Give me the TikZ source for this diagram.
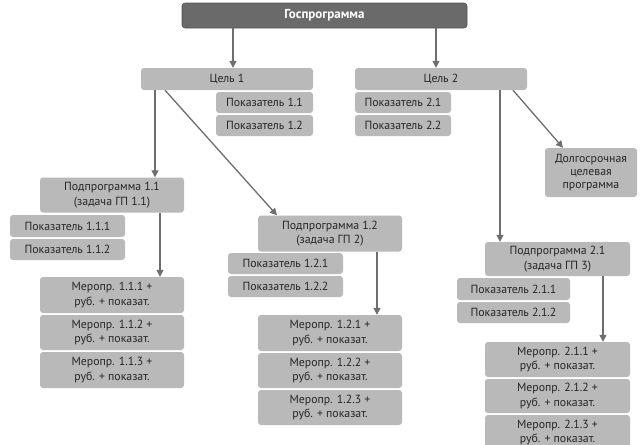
\documentclass[tikz,border=0pt]{standalone}
\usepackage{fontspec}
\setmainfont{PT Sans}
\usetikzlibrary{arrows.meta}
\definecolor{boxgray}{HTML}{B9B9B9}
\definecolor{darkbox}{HTML}{6A6A6A}
\definecolor{arrgray}{HTML}{6E6E6E}
\definecolor{txtgray}{HTML}{262626}
\tikzset{
  box/.style={fill=boxgray, rounded corners=3pt, inner sep=0pt, align=center,
    text=txtgray, font=\fontsize{11.8}{14.5}\selectfont},
  topbox/.style={box, fill=darkbox, draw=darkbox!80!black, line width=0.6pt, text=white,
    font=\fontsize{13}{15}\selectfont\bfseries},
  arr/.style={draw=arrgray, line width=1.3pt, -{Triangle[length=7pt,width=7pt]}},
}
\begin{document}
\begin{tikzpicture}[x=1pt,y=-1pt]
\clip (0,0) rectangle (641,445);
\fill[white] (0,0) rectangle (641,445);
% top
\node[topbox, minimum width=285, minimum height=25] (gp) at (324.5,15.5) {Госпрограмма};
% goals
\node[box, minimum width=172, minimum height=22] (c1) at (227,79) {Цель 1};
\node[box, minimum width=97, minimum height=21] (p11) at (264.5,102.5) {Показатель 1.1};
\node[box, minimum width=97, minimum height=21] (p12) at (264.5,125.5) {Показатель 1.2};
\node[box, minimum width=172, minimum height=22] (c2) at (441,79) {Цель 2};
\node[box, minimum width=96, minimum height=21] (p21) at (403,102.5) {Показатель 2.1};
\node[box, minimum width=96, minimum height=21] (p22) at (403,125.5) {Показатель 2.2};
\node[box, minimum width=92, minimum height=49, font=\fontsize{11.8}{12.8}\selectfont] (dlg) at (591,172.5) {Долгосрочная\\целевая\\программа};
% subprogram 1.1
\node[box, minimum width=144, minimum height=35] (sp11) at (112,195) {Подпрограмма 1.1\\(задача ГП 1.1)};
\node[box, minimum width=115, minimum height=22] (p111) at (67.5,226) {Показатель 1.1.1};
\node[box, minimum width=115, minimum height=21] (p112) at (67.5,249.5) {Показатель 1.1.2};
\node[box, minimum width=144, minimum height=36] (m111) at (112,295) {Меропр. 1.1.1 +\\руб. + показат.};
\node[box, minimum width=144, minimum height=35] (m112) at (112,332.5) {Меропр. 1.1.2 +\\руб. + показат.};
\node[box, minimum width=144, minimum height=36] (m113) at (112,370) {Меропр. 1.1.3 +\\руб. + показат.};
% subprogram 1.2
\node[box, minimum width=144, minimum height=36] (sp12) at (330,233.5) {Подпрограмма 1.2\\(задача ГП 2)};
\node[box, minimum width=115, minimum height=21] (p121) at (285.5,263.5) {Показатель 1.2.1};
\node[box, minimum width=115, minimum height=21] (p122) at (285.5,286.5) {Показатель 1.2.2};
\node[box, minimum width=144, minimum height=36] (m121) at (330,333) {Меропр. 1.2.1 +\\руб. + показат.};
\node[box, minimum width=144, minimum height=35] (m122) at (330,370.5) {Меропр. 1.2.2 +\\руб. + показат.};
\node[box, minimum width=144, minimum height=35] (m123) at (330,407.5) {Меропр. 1.2.3 +\\руб. + показат.};
% subprogram 2.1
\node[box, minimum width=145, minimum height=34] (sp21) at (557.5,259) {Подпрограмма 2.1\\(задача ГП 3)};
\node[box, minimum width=113, minimum height=22] (p211) at (513.5,289) {Показатель 2.1.1};
\node[box, minimum width=113, minimum height=21] (p212) at (513.5,312.5) {Показатель 2.1.2};
\node[box, minimum width=145, minimum height=35] (m211) at (557.5,359.5) {Меропр. 2.1.1 +\\руб. + показат.};
\node[box, minimum width=145, minimum height=34] (m212) at (557.5,396) {Меропр. 2.1.2 +\\руб. + показат.};
\node[box, minimum width=145, minimum height=35] (m213) at (557.5,432.5) {Меропр. 2.1.3 +\\руб. + показат.};
% guide coordinates
\coordinate (xa) at (233,0);
\coordinate (xb) at (436,0);
\coordinate (xc) at (155,0);
\coordinate (xd) at (165,0);
\coordinate (xe) at (277,0);
\coordinate (xf) at (160,0);
\coordinate (xg) at (377,0);
\coordinate (xh) at (500,0);
\coordinate (xi) at (513,0);
\coordinate (xj) at (563,0);
\coordinate (xk) at (603,0);
% connectors
\draw[arr] (gp.south -| xa) -- (c1.north -| xa);
\draw[arr] (gp.south -| xb) -- (c2.north -| xb);
\draw[arr] (c1.south -| xc) -- (sp11.north -| xc);
\draw[arr] (c1.south -| xd) -- (sp12.north -| xe);
\draw[arr] (sp11.south -| xf) -- (m111.north -| xf);
\draw[arr] (sp12.south -| xg) -- (m121.north -| xg);
\draw[arr] (c2.south -| xh) -- (sp21.north -| xh);
\draw[arr] (c2.south -| xi) -- (dlg.north -| xj);
\draw[arr] (sp21.south -| xk) -- (m211.north -| xk);
\end{tikzpicture}
\end{document}
